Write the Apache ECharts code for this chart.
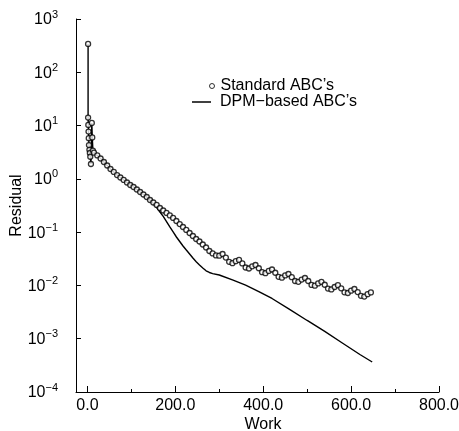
<!DOCTYPE html>
<html><head><meta charset="utf-8">
<script src="https://cdn.jsdelivr.net/npm/echarts@6/dist/echarts.min.js"></script>
<style>html,body{margin:0;padding:0;background:#fff}#c{width:459px;height:431px}</style>
</head><body><div id="c"></div>
<script>
const xTicks = [0, 200, 400, 600, 800];
const xMinorTicks = [100, 300, 500, 700];
const seriesNames = ["Standard ABC\u2019s", "DPM\u2212based ABC\u2019s"];

const stdWork = [1.5, 1.5, 2, 2.5, 3, 3.5, 4.5, 5.5, 6.5, 8, 10, 11, 12.5, 15,
  22.5, 30, 37.5, 45, 52.5, 60, 67.5, 75, 82.5, 90, 97.5, 105, 112.5, 120, 127.5, 135, 142.5,
  150, 157.5, 165, 172.5, 180, 187.5, 195, 202.5, 210, 217.5, 225, 232.5, 240, 247.5, 255,
  262.5, 270, 277.5, 285, 292.5, 300, 307.5, 315, 322.5, 330, 337.5, 345, 352.5, 360, 367.5,
  375, 382.5, 390, 397.5, 405, 412.5, 420, 427.5, 435, 442.5, 450, 457.5, 465, 472.5, 480,
  487.5, 495, 502.5, 510, 517.5, 525, 532.5, 540, 547.5, 555, 562.5, 570, 577.5, 585, 592.5,
  600, 607.5, 615, 622.5, 630, 637.5, 645];
const stdResidual = [340, 14.1, 10.3, 7.7, 5.8, 4.3, 3.5, 3.06, 2.6, 1.9, 11.2, 6, 3.4, 3.1,
  2.75, 2.41, 2.07, 1.78, 1.53, 1.35, 1.18, 1.06, 0.953, 0.855, 0.767, 0.703, 0.632, 0.567, 0.509, 0.457, 0.401,
  0.360, 0.324, 0.284, 0.255, 0.229, 0.206, 0.185, 0.162, 0.142, 0.125, 0.110, 0.0964, 0.0847, 0.0744, 0.0668,
  0.0586, 0.0515, 0.0443, 0.0398, 0.0365, 0.0362, 0.0389, 0.0333, 0.0277, 0.0262, 0.0285, 0.0301, 0.0259, 0.0217, 0.0208,
  0.0228, 0.0242, 0.0210, 0.0177, 0.0170, 0.0187, 0.0199, 0.0173, 0.0145, 0.0140, 0.0154, 0.0164, 0.0143, 0.0121, 0.0117,
  0.0129, 0.0138, 0.0121, 0.0102, 0.00989, 0.0109, 0.0117, 0.0103, 0.00873, 0.00843, 0.00935, 0.0101, 0.00881, 0.00743, 0.00721,
  0.00798, 0.00857, 0.00750, 0.00637, 0.00618, 0.00685, 0.00738];

const dpmWork = [1.5, 1.5, 2, 2.5, 3, 3.5, 4.5, 5.5, 6.5, 8, 10, 11, 12.5, 15,
  22.5, 30, 37.5, 45, 52.5, 60, 67.5, 75, 82.5, 90, 97.5, 105, 112.5, 120, 127.5, 135, 142.5,
  150, 157.5, 165, 172.5, 180, 187.5, 195, 202.5, 210, 217.5, 225, 232.5, 240, 247.5, 255,
  262.5, 270, 277.5, 285, 300, 330, 360, 390, 420, 460, 500, 540, 580, 620, 648];
const dpmResidual = [340, 14.1, 10.3, 7.7, 5.8, 4.3, 3.5, 3.06, 2.6, 1.9, 11.2, 6, 3.4, 3.1,
  2.75, 2.41, 2.07, 1.78, 1.53, 1.35, 1.18, 1.06, 0.953, 0.855, 0.767, 0.703, 0.632, 0.567, 0.509, 0.457, 0.398,
  0.345, 0.290, 0.239, 0.197, 0.158, 0.125, 0.1007, 0.0811, 0.0668, 0.055, 0.0462, 0.0389, 0.0327, 0.0278, 0.0242,
  0.0212, 0.0188, 0.0175, 0.0167, 0.0157, 0.0127, 0.0101, 0.00769, 0.00569, 0.00355, 0.00220, 0.00137, 0.000832, 0.000506, 0.000366];

const FONT = "'Liberation Sans', Arial, sans-serif";
const chart = echarts.init(document.getElementById('c'), null, {renderer: 'canvas'});
const pair = (xs, ys) => xs.map((x, i) => [x, ys[i]]);

chart.setOption({
  animation: false,
  backgroundColor: '#fff',
  textStyle: {fontFamily: FONT, color: '#000'},
  grid: {left: 76, right: 20, top: 19, bottom: 39, containLabel: false, outerBoundsMode: 'none'},
  legend: [
    {
      data: [{name: seriesNames[0], icon: 'circle', itemStyle: {borderWidth: 1}}],
      left: 209, top: 78, padding: 0, itemWidth: 5, itemHeight: 5,
      textStyle: {fontSize: 16, fontFamily: FONT, color: '#000', padding: [0, 0, 0, 1]},
      selectedMode: false
    },
    {
      data: [{name: seriesNames[1], icon: 'rect'}],
      left: 192, top: 94, padding: 0, itemWidth: 19, itemHeight: 1.5,
      textStyle: {fontSize: 16, fontFamily: FONT, color: '#000', padding: [0, 0, 0, 4]},
      selectedMode: false
    }
  ],
  xAxis: [
    {
      type: 'value', min: -26, max: 800,
      name: 'Work', nameLocation: 'middle', nameGap: 25, nameMoveOverlap: false,
      nameTextStyle: {fontSize: 16, fontFamily: FONT, color: '#000', padding: [0, 0, 0, 11]},
      axisLine: {show: true, onZero: false, lineStyle: {color: '#000', width: 1}},
      axisTick: {show: true, inside: true, length: 6, customValues: xTicks, lineStyle: {color: '#000'}},
      axisLabel: {show: true, customValues: xTicks, margin: 6, fontSize: 16, fontFamily: FONT, color: '#000',
        formatter: v => Number(v).toFixed(1)},
      splitLine: {show: false}
    },
    {
      type: 'value', min: -26, max: 800, position: 'bottom',
      axisLine: {show: false, onZero: false},
      axisTick: {show: true, inside: true, length: 3, customValues: xMinorTicks, lineStyle: {color: '#000'}},
      axisLabel: {show: false},
      splitLine: {show: false}
    }
  ],
  yAxis: {
    type: 'log', logBase: 10, min: 1e-4, max: 1e3,
    name: 'Residual', nameLocation: 'middle', nameGap: 51, nameRotate: 90, nameMoveOverlap: false,
    nameTextStyle: {fontSize: 16, fontFamily: FONT, color: '#000'},
    axisLine: {show: true, onZero: false, lineStyle: {color: '#000', width: 1}},
    axisTick: {show: true, inside: true, length: 5, lineStyle: {color: '#000'}},
    splitLine: {show: false},
    minorTick: {show: false},
    axisLabel: {
      margin: 18,
      formatter: v => {
        const e = Math.round(Math.log10(v));
        return '{b|10}{s|' + (e < 0 ? '\u2212' + (-e) : String(e)) + '}';
      },
      rich: {
        b: {fontSize: 16, fontFamily: FONT, color: '#000', padding: [2, 0, 0, 0]},
        s: {fontSize: 11, fontFamily: FONT, color: '#000', padding: [0, 0, 9, 0]}
      }
    }
  },
  series: [
    {
      name: seriesNames[1], type: 'line', xAxisIndex: 0,
      data: pair(dpmWork, dpmResidual),
      symbol: 'none', showSymbol: false,
      lineStyle: {color: '#000', width: 1.4},
      itemStyle: {color: '#000'},
      z: 2
    },
    {
      name: seriesNames[0], type: 'scatter', xAxisIndex: 0,
      data: pair(stdWork, stdResidual),
      symbol: 'circle', symbolSize: 5,
      itemStyle: {color: '#fff', borderColor: '#000', borderWidth: 1.3},
      z: 3
    }
  ]
});
</script>
</body></html>
